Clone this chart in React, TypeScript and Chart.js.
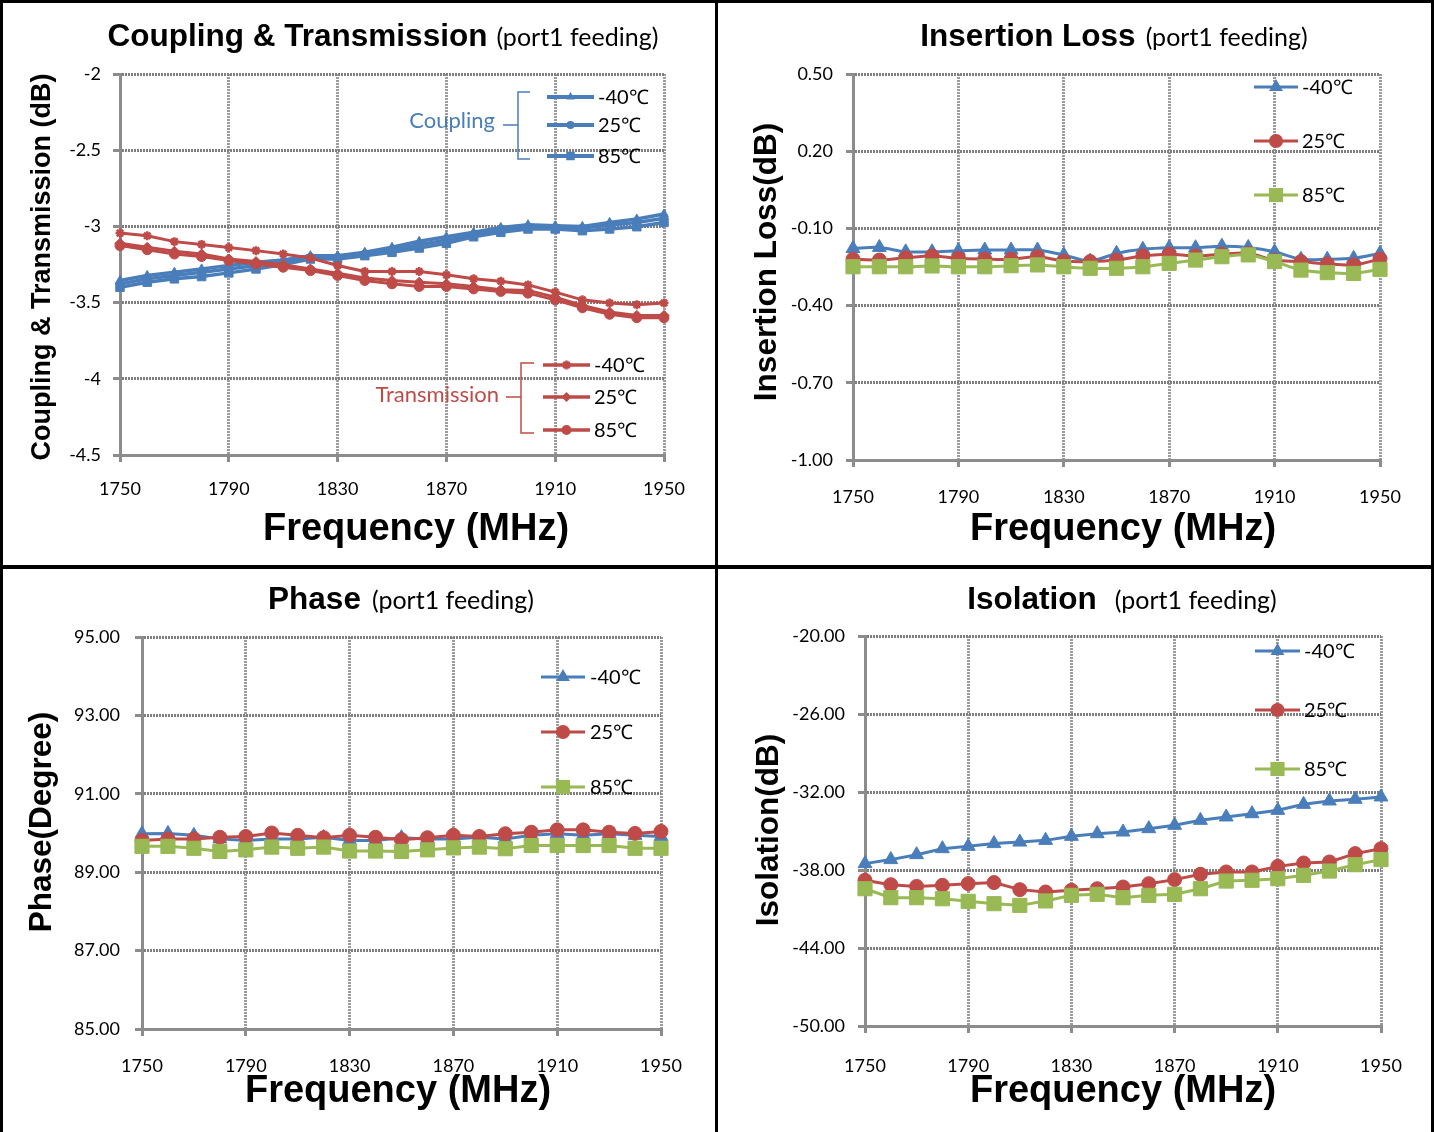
import React, { useEffect, useRef } from "react";
import { Chart, registerables } from "chart.js";

Chart.register(...registerables);

// ---------------- DATA ----------------
const FREQ_MHZ = [1750, 1760, 1770, 1780, 1790, 1800, 1810, 1820, 1830, 1840, 1850, 1860, 1870, 1880, 1890, 1900, 1910, 1920, 1930, 1940, 1950];
const X_TICKS = [1750, 1790, 1830, 1870, 1910, 1950];
const TEMPS = ["-40℃", "25℃", "85℃"];

const COUP_M40 = [-3.355, -3.322, -3.301, -3.279, -3.257, -3.235, -3.22, -3.192, -3.192, -3.17, -3.137, -3.098, -3.068, -3.039, -3.007, -2.989, -2.996, -3.0, -2.974, -2.952, -2.919];
const COUP_25 = [-3.377, -3.344, -3.322, -3.301, -3.279, -3.257, -3.235, -3.203, -3.203, -3.181, -3.155, -3.12, -3.089, -3.054, -3.024, -3.002, -3.007, -3.011, -2.991, -2.974, -2.946];
const COUP_85 = [-3.399, -3.366, -3.344, -3.329, -3.305, -3.279, -3.251, -3.214, -3.214, -3.192, -3.17, -3.142, -3.111, -3.068, -3.039, -3.017, -3.017, -3.028, -3.017, -3.002, -2.974];
const TRANS_M40 = [-3.044, -3.061, -3.1, -3.118, -3.139, -3.159, -3.181, -3.207, -3.257, -3.296, -3.296, -3.296, -3.318, -3.344, -3.36, -3.384, -3.431, -3.482, -3.503, -3.514, -3.503];
const TRANS_25 = [-3.111, -3.137, -3.163, -3.181, -3.214, -3.231, -3.251, -3.279, -3.307, -3.338, -3.355, -3.366, -3.377, -3.394, -3.416, -3.42, -3.464, -3.519, -3.562, -3.584, -3.584];
const TRANS_85 = [-3.126, -3.153, -3.181, -3.198, -3.224, -3.246, -3.268, -3.29, -3.322, -3.355, -3.377, -3.394, -3.394, -3.41, -3.427, -3.438, -3.482, -3.534, -3.577, -3.599, -3.599];
const CT_TICKS = [-4.5, -4, -3.5, -3, -2.5, -2];

const IL_M40 = [-0.178, -0.174, -0.191, -0.191, -0.187, -0.184, -0.184, -0.184, -0.203, -0.227, -0.197, -0.181, -0.175, -0.175, -0.169, -0.174, -0.191, -0.22, -0.22, -0.216, -0.197];
const IL_25 = [-0.22, -0.223, -0.214, -0.207, -0.216, -0.219, -0.22, -0.21, -0.227, -0.229, -0.223, -0.207, -0.2, -0.207, -0.2, -0.197, -0.223, -0.229, -0.238, -0.242, -0.219];
const IL_85 = [-0.249, -0.249, -0.249, -0.246, -0.249, -0.249, -0.245, -0.242, -0.249, -0.255, -0.255, -0.249, -0.236, -0.223, -0.21, -0.203, -0.229, -0.262, -0.272, -0.275, -0.259];
const IL_TICKS = [-1.0, -0.7, -0.4, -0.1, 0.2, 0.5];

const PH_M40 = [89.98, 89.99, 89.94, 89.85, 89.81, 89.85, 89.85, 89.89, 89.81, 89.81, 89.88, 89.85, 89.85, 89.89, 89.85, 89.94, 89.98, 89.94, 89.98, 89.94, 89.91];
const PH_25 = [89.81, 89.85, 89.85, 89.89, 89.91, 90.0, 89.94, 89.88, 89.94, 89.89, 89.83, 89.88, 89.94, 89.91, 89.98, 90.02, 90.08, 90.08, 90.02, 89.99, 90.04];
const PH_85 = [89.66, 89.66, 89.61, 89.53, 89.57, 89.64, 89.61, 89.64, 89.54, 89.54, 89.53, 89.57, 89.62, 89.64, 89.6, 89.68, 89.68, 89.68, 89.68, 89.61, 89.61];
const PH_TICKS = [85, 87, 89, 91, 93, 95];

const ISO_M40 = [-37.51, -37.2, -36.82, -36.36, -36.18, -35.97, -35.85, -35.72, -35.41, -35.21, -35.08, -34.82, -34.56, -34.18, -33.92, -33.67, -33.41, -32.95, -32.69, -32.56, -32.38];
const ISO_25 = [-38.79, -39.13, -39.26, -39.18, -39.05, -38.97, -39.51, -39.69, -39.56, -39.44, -39.31, -39.05, -38.74, -38.33, -38.15, -38.15, -37.72, -37.46, -37.38, -36.74, -36.36];
const ISO_85 = [-39.44, -40.13, -40.13, -40.21, -40.41, -40.59, -40.72, -40.38, -39.95, -39.87, -40.13, -39.95, -39.87, -39.44, -38.85, -38.79, -38.67, -38.41, -38.08, -37.59, -37.2];
const ISO_TICKS = [-50, -44, -38, -32, -26, -20];

// ---------------- STYLE ----------------
const BLUE = "#4A7EBB";
const RED = "#BE4B48";
const GREEN = "#98B954";
const TICK_FONT = "Lato, 'Open Sans', sans-serif";
const BOLD_FONT = "'Liberation Sans', Arial, sans-serif";

type Box = { x: number; y: number; w: number; h: number };
type Plot = { l: number; r: number; t: number; b: number };
type LegendGroup = {
  label: string; color: string; labelRight: number; labelY: number;
  bx: number; top: number; bottom: number; hook: number; tipX: number; tipY: number;
};
type LegendSpec = { x1: number; x2: number; textX: number; ys: number[]; ds: number[]; lineWidth: number; group?: LegendGroup };
type PanelSpec = {
  box: Box; plot: Plot;
  title: { bold: string; normal: string; cx: number; baseline: number; gap: number };
  yTitle: { text: string; size: number; cx: number; cy: number };
  xTitle: { text: string; cx: number; baseline: number };
  yTicks: number[]; yFmt: (v: number) => string; yPad: number; xPad: number;
  datasets: any[]; legends: LegendSpec[];
};

function series(label: string, values: number[], color: string, style: string, radius: number, width: number, order: number, tension = 0) {
  return {
    label,
    data: FREQ_MHZ.map((f, i) => ({ x: f, y: values[i] })),
    borderColor: color,
    backgroundColor: color,
    pointBackgroundColor: color,
    pointBorderColor: color,
    pointStyle: style,
    pointRadius: radius,
    pointBorderWidth: style === "star" ? 2.5 : 1,
    borderWidth: width,
    order,
    clip: false,
    tension,
  };
}

function drawMarker(ctx: CanvasRenderingContext2D, style: string, x: number, y: number, r: number, color: string) {
  ctx.save();
  ctx.fillStyle = color;
  ctx.strokeStyle = color;
  ctx.lineWidth = 1;
  ctx.beginPath();
  if (style === "circle") {
    ctx.arc(x, y, r, 0, Math.PI * 2);
    ctx.fill();
  } else if (style === "triangle") {
    ctx.moveTo(x, y - r);
    ctx.lineTo(x + r * 0.866, y + r * 0.5);
    ctx.lineTo(x - r * 0.866, y + r * 0.5);
    ctx.closePath();
    ctx.fill();
  } else if (style === "rect") {
    const s = r / Math.SQRT2;
    ctx.rect(x - s, y - s, 2 * s, 2 * s);
    ctx.fill();
  } else if (style === "rectRot") {
    ctx.moveTo(x, y - r);
    ctx.lineTo(x + r, y);
    ctx.lineTo(x, y + r);
    ctx.lineTo(x - r, y);
    ctx.closePath();
    ctx.fill();
  } else if (style === "star") {
    ctx.lineWidth = 2.5;
    for (let k = 0; k < 4; k++) {
      const a = (k * Math.PI) / 4;
      ctx.moveTo(x - Math.cos(a) * r, y - Math.sin(a) * r);
      ctx.lineTo(x + Math.cos(a) * r, y + Math.sin(a) * r);
    }
    ctx.stroke();
  }
  ctx.restore();
}

const annotate = {
  id: "annotate",
  afterDraw(chart: any) {
    const p: PanelSpec = chart.options.plugins.annotate.spec;
    const ctx: CanvasRenderingContext2D = chart.ctx;
    const ox = p.box.x, oy = p.box.y;
    ctx.save();
    // title
    ctx.fillStyle = "#000";
    ctx.textBaseline = "alphabetic";
    ctx.textAlign = "left";
    const bf = `bold 31.5px ${BOLD_FONT}`;
    const nf = `25px ${TICK_FONT}`;
    ctx.font = bf;
    const wb = ctx.measureText(p.title.bold).width;
    ctx.font = nf;
    const wn = ctx.measureText(p.title.normal).width;
    const sx = p.title.cx - (wb + p.title.gap + wn) / 2 - ox;
    ctx.font = bf;
    ctx.fillText(p.title.bold, sx, p.title.baseline - oy);
    ctx.font = nf;
    ctx.fillText(p.title.normal, sx + wb + p.title.gap, p.title.baseline - oy);
    // x title
    ctx.font = `bold 38px ${BOLD_FONT}`;
    ctx.textAlign = "center";
    ctx.fillText(p.xTitle.text, p.xTitle.cx - ox, p.xTitle.baseline - oy);
    // y title
    ctx.save();
    ctx.font = `bold ${p.yTitle.size}px ${BOLD_FONT}`;
    ctx.translate(p.yTitle.cx + p.yTitle.size * 0.358 - ox, p.yTitle.cy - oy);
    ctx.rotate(-Math.PI / 2);
    ctx.textAlign = "center";
    ctx.fillText(p.yTitle.text, 0, 0);
    ctx.restore();
    // legends
    for (const lg of p.legends) {
      lg.ds.forEach((di, k) => {
        const ds = chart.data.datasets[di];
        const y = lg.ys[k] - oy;
        ctx.save();
        ctx.strokeStyle = ds.borderColor;
        ctx.lineWidth = lg.lineWidth;
        ctx.beginPath();
        ctx.moveTo(lg.x1 - ox, y);
        ctx.lineTo(lg.x2 - ox, y);
        ctx.stroke();
        ctx.restore();
        drawMarker(ctx, ds.pointStyle, (lg.x1 + lg.x2) / 2 - ox, y, ds.pointRadius, ds.borderColor);
        ctx.fillStyle = "#000";
        ctx.font = `20px ${TICK_FONT}`;
        ctx.textAlign = "left";
        ctx.textBaseline = "middle";
        ctx.fillText(ds.label, lg.textX - ox, y + 1);
      });
      const g = lg.group;
      if (g) {
        ctx.fillStyle = g.color;
        ctx.font = `22px ${TICK_FONT}`;
        ctx.textAlign = "right";
        ctx.textBaseline = "middle";
        ctx.fillText(g.label, g.labelRight - ox, g.labelY - oy);
        ctx.strokeStyle = g.color;
        ctx.lineWidth = 1.5;
        ctx.beginPath();
        ctx.moveTo(g.hook - ox, g.top - oy);
        ctx.lineTo(g.bx - ox, g.top - oy);
        ctx.lineTo(g.bx - ox, g.bottom - oy);
        ctx.lineTo(g.hook - ox, g.bottom - oy);
        ctx.moveTo(g.bx - ox, g.tipY - oy);
        ctx.lineTo(g.tipX - ox, g.tipY - oy);
        ctx.stroke();
      }
    }
    ctx.restore();
  },
};

const YW = 100;
const XH = 50;

function buildConfig(p: PanelSpec) {
  const padding = {
    left: p.plot.l - p.box.x - YW,
    right: p.box.x + p.box.w - p.plot.r,
    top: p.plot.t - p.box.y,
    bottom: p.box.y + p.box.h - p.plot.b - XH,
  };
  const yMin = p.yTicks[0];
  const yMax = p.yTicks[p.yTicks.length - 1];
  return {
    type: "line",
    data: { datasets: p.datasets },
    options: {
      responsive: false,
      animation: false,
      layout: { padding },
      plugins: { legend: { display: false }, title: { display: false }, tooltip: { enabled: false }, annotate: { spec: p } },
      scales: {
        x: {
          type: "linear",
          min: X_TICKS[0],
          max: X_TICKS[X_TICKS.length - 1],
          afterBuildTicks: (s: any) => { s.ticks = X_TICKS.map((v) => ({ value: v })); },
          afterFit: (s: any) => { s.height = XH; },
          grid: { color: "#9c9c9c", lineWidth: 3, tickLength: 7, tickColor: "#8c8c8c", tickWidth: 3 },
          border: { display: true, color: "#8c8c8c", width: 3, dash: [2, 1] },
          ticks: { color: "#000", font: { family: TICK_FONT, size: 18 }, padding: p.xPad, maxRotation: 0, autoSkip: false, callback: (v: any) => String(v) },
        },
        y: {
          type: "linear",
          min: yMin,
          max: yMax,
          afterBuildTicks: (s: any) => { s.ticks = p.yTicks.map((v) => ({ value: v })); },
          afterFit: (s: any) => { s.width = YW; },
          grid: { color: "#7f7f7f", lineWidth: 3, tickLength: 7, tickColor: "#8c8c8c", tickWidth: 3 },
          border: { display: true, color: "#8c8c8c", width: 3, dash: [2, 1] },
          ticks: { color: "#000", font: { family: TICK_FONT, size: 18 }, padding: p.yPad, autoSkip: false, callback: (v: any) => p.yFmt(Number(v)) },
        },
      },
    },
    plugins: [annotate],
  };
}

const fixed2 = (v: number) => v.toFixed(2);
const plain = (v: number) => String(v);

const PANELS: PanelSpec[] = [
  {
    box: { x: 3, y: 3, w: 712, h: 562 },
    plot: { l: 120, r: 664, t: 74, b: 455 },
    title: { bold: "Coupling & Transmission", normal: "(port1 feeding)", cx: 383, baseline: 46, gap: 9 },
    yTitle: { text: "Coupling & Transmission (dB)", size: 27, cx: 40, cy: 267 },
    xTitle: { text: "Frequency (MHz)", cx: 416, baseline: 540 },
    yTicks: CT_TICKS, yFmt: plain, yPad: 12, xPad: 16,
    datasets: [
      series(TEMPS[0], COUP_M40, BLUE, "triangle", 5, 3.5, 5),
      series(TEMPS[1], COUP_25, BLUE, "circle", 4, 3.5, 4),
      series(TEMPS[2], COUP_85, BLUE, "rect", 6, 3.5, 3),
      series(TEMPS[0], TRANS_M40, RED, "star", 4.5, 3, 2),
      series(TEMPS[1], TRANS_25, RED, "rectRot", 5, 3, 1),
      series(TEMPS[2], TRANS_85, RED, "circle", 5, 3, 0),
    ],
    legends: [
      {
        x1: 547, x2: 594, textX: 598, ys: [97, 125, 156], ds: [0, 1, 2], lineWidth: 4,
        group: { label: "Coupling", color: BLUE, labelRight: 495, labelY: 121, bx: 518, top: 92, bottom: 159, hook: 530, tipX: 503, tipY: 125 },
      },
      {
        x1: 543, x2: 590, textX: 594, ys: [365, 397, 430], ds: [3, 4, 5], lineWidth: 3.5,
        group: { label: "Transmission", color: RED, labelRight: 499, labelY: 395, bx: 521, top: 363, bottom: 433, hook: 534, tipX: 506, tipY: 397 },
      },
    ],
  },
  {
    box: { x: 718, y: 3, w: 713, h: 562 },
    plot: { l: 853, r: 1380, t: 74, b: 460 },
    title: { bold: "Insertion Loss", normal: "(port1 feeding)", cx: 1114, baseline: 46, gap: 10 },
    yTitle: { text: "Insertion Loss(dB)", size: 31.5, cx: 765, cy: 262 },
    xTitle: { text: "Frequency (MHz)", cx: 1123, baseline: 540 },
    yTicks: IL_TICKS, yFmt: fixed2, yPad: 13, xPad: 19,
    datasets: [
      series(TEMPS[0], IL_M40, BLUE, "triangle", 8, 3, 2, 0.3),
      series(TEMPS[1], IL_25, RED, "circle", 7, 3, 1, 0.3),
      series(TEMPS[2], IL_85, GREEN, "rect", 10, 3, 0, 0.3),
    ],
    legends: [{ x1: 1254, x2: 1298, textX: 1302, ys: [87, 141, 195], ds: [0, 1, 2], lineWidth: 3 }],
  },
  {
    box: { x: 3, y: 569, w: 712, h: 563 },
    plot: { l: 142, r: 661, t: 637, b: 1029 },
    title: { bold: "Phase", normal: "(port1 feeding)", cx: 401, baseline: 609, gap: 11 },
    yTitle: { text: "Phase(Degree)", size: 31.5, cx: 40, cy: 822 },
    xTitle: { text: "Frequency (MHz)", cx: 398, baseline: 1102 },
    yTicks: PH_TICKS, yFmt: fixed2, yPad: 15, xPad: 19,
    datasets: [
      series(TEMPS[0], PH_M40, BLUE, "triangle", 8, 3, 2),
      series(TEMPS[1], PH_25, RED, "circle", 7, 3, 1),
      series(TEMPS[2], PH_85, GREEN, "rect", 10, 3, 0),
    ],
    legends: [{ x1: 541, x2: 585, textX: 590, ys: [677, 732, 787], ds: [0, 1, 2], lineWidth: 3 }],
  },
  {
    box: { x: 718, y: 569, w: 713, h: 563 },
    plot: { l: 865, r: 1381, t: 636, b: 1026 },
    title: { bold: "Isolation", normal: "(port1 feeding)", cx: 1122, baseline: 609, gap: 18 },
    yTitle: { text: "Isolation(dB)", size: 31.5, cx: 767, cy: 830 },
    xTitle: { text: "Frequency (MHz)", cx: 1123, baseline: 1102 },
    yTicks: ISO_TICKS, yFmt: fixed2, yPad: 13, xPad: 22,
    datasets: [
      series(TEMPS[0], ISO_M40, BLUE, "triangle", 8, 3, 2),
      series(TEMPS[1], ISO_25, RED, "circle", 7, 3, 1),
      series(TEMPS[2], ISO_85, GREEN, "rect", 10, 3, 0),
    ],
    legends: [{ x1: 1255, x2: 1300, textX: 1304, ys: [651, 710, 769], ds: [0, 1, 2], lineWidth: 3 }],
  },
];

function Panel({ spec }: { spec: PanelSpec }) {
  const ref = useRef<HTMLCanvasElement | null>(null);
  useEffect(() => {
    if (!ref.current) return;
    const chart = new Chart(ref.current, buildConfig(spec) as any);
    return () => chart.destroy();
  }, [spec]);
  return (
    <div style={{ position: "absolute", left: spec.box.x, top: spec.box.y, width: spec.box.w, height: spec.box.h, background: "#fff" }}>
      <canvas ref={ref} width={spec.box.w} height={spec.box.h} style={{ display: "block", width: spec.box.w, height: spec.box.h }} />
    </div>
  );
}

export default function App() {
  return (
    <div style={{ position: "absolute", left: 0, top: 0, width: 1434, height: 1132, background: "#000", overflow: "hidden" }}>
      {PANELS.map((p, i) => (
        <Panel key={i} spec={p} />
      ))}
    </div>
  );
}
